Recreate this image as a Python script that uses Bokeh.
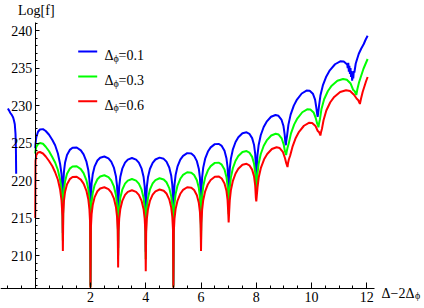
from bokeh.plotting import figure
from bokeh.models import Range1d, FixedTicker, SingleIntervalTicker, Label, BoxAnnotation
from bokeh.embed import file_html
from bokeh.resources import INLINE

# ---------------- data ----------------
x_main = [0, 0.01, 0.04, 0.1, 0.17, 0.28, 0.38, 0.5, 0.62, 0.72, 0.82, 0.9, 0.95, 0.985,
          1, 1.015, 1.04, 1.08, 1.15, 1.25, 1.35, 1.5, 1.65, 1.75, 1.85, 1.92, 1.96, 1.985,
          2, 2.015, 2.04, 2.08, 2.15, 2.25, 2.35, 2.5, 2.65, 2.75, 2.85, 2.92, 2.96, 2.985,
          3, 3.015, 3.04, 3.08, 3.15, 3.25, 3.35, 3.5, 3.65, 3.75, 3.85, 3.92, 3.96, 3.985,
          4, 4.015, 4.04, 4.08, 4.15, 4.25, 4.35, 4.5, 4.65, 4.75, 4.85, 4.92, 4.96, 4.985,
          5, 5.015, 5.04, 5.08, 5.15, 5.25, 5.35, 5.5, 5.65, 5.75, 5.85, 5.92, 5.96, 5.985,
          6, 6.015, 6.04, 6.08, 6.15, 6.25, 6.35, 6.5, 6.65, 6.75, 6.85, 6.92, 6.96, 6.985,
          7, 7.015, 7.04, 7.08, 7.15, 7.25, 7.35, 7.5, 7.65, 7.75, 7.85, 7.92, 7.96, 7.985,
          8]

blue_main = [224.3, 224.9, 225.8, 226.5, 226.8, 226.85, 226.6, 226.1, 225.4, 224.7, 223.6, 222.2, 220.9, 218.8,
             213.0, 219.48, 221.21, 222.40, 223.40, 224.08, 224.37, 224.40, 224.01, 223.48, 222.56, 221.40, 220.11, 218.32,
             206.0, 217.85, 219.60, 220.83, 221.89, 222.66, 223.04, 223.20, 222.95, 222.51, 221.68, 220.57, 219.32, 217.55,
             211.0, 217.50, 219.26, 220.50, 221.58, 222.38, 222.79, 223.00, 222.79, 222.38, 221.58, 220.50, 219.26, 217.50,
             210.5, 217.40, 219.17, 220.42, 221.53, 222.36, 222.80, 223.05, 222.89, 222.51, 221.74, 220.68, 219.45, 217.70,
             206.0, 217.67, 219.45, 220.73, 221.88, 222.78, 223.29, 223.65, 223.59, 223.28, 222.58, 221.57, 220.37, 218.64,
             213.0, 218.62, 220.42, 221.72, 222.91, 223.86, 224.42, 224.85, 224.87, 224.61, 223.96, 222.98, 221.80, 220.08,
             216.5, 219.73, 221.55, 222.88, 224.11, 225.13, 225.76, 226.30, 226.42, 226.23, 225.65, 224.72, 223.57, 221.87,
             219.5]

green_main = [223.6, 224.0, 224.5, 224.85, 225.0, 224.9, 224.5, 223.9, 223.1, 222.4, 221.4, 220.1, 218.8, 216.5,
              212.0, 216.98, 218.71, 219.90, 220.90, 221.58, 221.87, 221.90, 221.51, 220.98, 220.06, 218.90, 217.61, 215.82,
              205.8, 215.35, 217.10, 218.33, 219.39, 220.16, 220.54, 220.70, 220.45, 220.01, 219.18, 218.07, 216.82, 215.05,
              210.0, 214.70, 216.46, 217.70, 218.78, 219.58, 219.99, 220.20, 219.99, 219.58, 218.78, 217.70, 216.46, 214.70,
              209.5, 214.65, 216.42, 217.67, 218.78, 219.61, 220.05, 220.30, 220.14, 219.76, 218.99, 217.93, 216.70, 214.95,
              205.8, 215.12, 216.90, 218.18, 219.33, 220.23, 220.74, 221.10, 221.04, 220.73, 220.03, 219.02, 217.82, 216.09,
              212.0, 216.12, 217.92, 219.22, 220.41, 221.36, 221.92, 222.35, 222.37, 222.11, 221.46, 220.48, 219.30, 217.58,
              215.5, 217.23, 219.05, 220.38, 221.61, 222.63, 223.26, 223.80, 223.92, 223.73, 223.15, 222.22, 221.07, 219.37,
              218.5]

red_main = [215.0, 222.6, 223.4, 223.75, 223.8, 223.6, 223.2, 222.6, 221.9, 221.1, 220.1, 218.8, 217.4, 215.2,
            210.6, 215.58, 217.31, 218.50, 219.50, 220.18, 220.47, 220.50, 220.11, 219.58, 218.66, 217.50, 216.21, 214.42,
            205.7, 213.75, 215.50, 216.73, 217.79, 218.56, 218.94, 219.10, 218.85, 218.41, 217.58, 216.47, 215.22, 213.45,
            208.4, 213.20, 214.96, 216.20, 217.28, 218.08, 218.49, 218.70, 218.49, 218.08, 217.28, 216.20, 214.96, 213.20,
            207.9, 213.15, 214.92, 216.17, 217.28, 218.11, 218.55, 218.80, 218.64, 218.26, 217.49, 216.43, 215.20, 213.45,
            205.7, 213.12, 214.90, 216.18, 217.33, 218.23, 218.74, 219.10, 219.04, 218.73, 218.03, 217.02, 215.82, 214.09,
            210.6, 214.27, 216.07, 217.37, 218.56, 219.51, 220.07, 220.50, 220.52, 220.26, 219.61, 218.63, 217.45, 215.73,
            214.4, 215.53, 217.35, 218.68, 219.91, 220.93, 221.56, 222.10, 222.22, 222.03, 221.45, 220.52, 219.37, 217.67,
            217.2]

blue_tail_x = [8.016, 8.043, 8.086, 8.161, 8.268, 8.375, 8.535, 8.696, 8.803, 8.91, 8.984, 9.027, 9.054,
               9.07,
               9.087, 9.116, 9.162, 9.243, 9.358, 9.473, 9.645, 9.818, 9.933, 10.048, 10.128, 10.174, 10.203,
               10.22,
               10.239, 10.27, 10.321, 10.409, 10.535, 10.661, 10.85, 11.039, 11.165, 11.291,
               11.31, 11.33, 11.35, 11.37, 11.39, 11.41, 11.43, 11.45, 11.47, 11.49, 11.51, 11.53, 11.55,
               11.6, 11.65, 11.71, 11.8, 11.89, 11.96, 12.03]
blue_tail_y = [221.55, 223.38, 224.74, 226.03, 227.13, 227.84, 228.5, 228.74, 228.63, 228.13, 227.26, 226.14, 225.0,
               224.7,
               225.3, 226.02, 227.42, 228.78, 229.98, 230.79, 231.6, 231.99, 231.98, 231.58, 230.78, 229.7, 228.9,
               228.5,
               228.9, 229.92, 231.32, 232.68, 233.88, 234.69, 235.5, 235.89, 235.88, 235.48,
               235.0, 235.7, 234.5, 235.3, 234.2, 235.0, 233.8, 234.6, 233.3, 234.2, 233.6, 234.6, 234.4,
               235.6, 236.2, 236.9, 237.6, 238.2, 238.8, 239.3]

green_tail_x = [8.016, 8.043, 8.086, 8.162, 8.27, 8.378, 8.54, 8.702, 8.81, 8.918, 8.994, 9.037, 9.064,
                9.08,
                9.098, 9.127, 9.174, 9.256, 9.373, 9.49, 9.665, 9.841, 9.958, 10.075, 10.156, 10.203, 10.232,
                10.25,
                10.271, 10.305, 10.36, 10.456, 10.593, 10.73, 10.935, 11.141, 11.278, 11.415, 11.51, 11.565, 11.599,
                11.62,
                11.66, 11.72, 11.8, 11.88, 11.96, 12.03]
green_tail_y = [219.05, 220.88, 222.24, 223.53, 224.63, 225.34, 226.0, 226.24, 226.13, 225.63, 224.76, 223.9, 223.6,
                223.4,
                223.8, 224.3, 224.92, 226.28, 227.48, 228.29, 229.1, 229.49, 229.48, 229.08, 228.28, 227.6, 227.4,
                227.1,
                227.6, 228.18, 229.54, 230.83, 231.93, 232.64, 233.3, 233.54, 233.43, 232.93, 232.06, 231.9, 231.6,
                231.4,
                232.2, 233.1, 234.0, 234.9, 235.6, 236.2]

red_tail_x = [8.017, 8.045, 8.09, 8.17, 8.283, 8.396, 8.565, 8.735, 8.848, 8.961, 9.04, 9.085, 9.113,
              9.13,
              9.148, 9.178, 9.225, 9.309, 9.428, 9.547, 9.725, 9.904, 10.023, 10.142, 10.225, 10.272, 10.302,
              10.32,
              10.341, 10.377, 10.434, 10.535, 10.678, 10.821, 11.035, 11.25, 11.393, 11.536, 11.636, 11.693, 11.729,
              11.75,
              11.79, 11.85, 11.91, 11.97, 12.03]
red_tail_y = [217.9, 219.08, 220.44, 221.73, 222.83, 223.54, 224.2, 224.44, 224.33, 223.83, 222.96, 222.3, 222.0,
              221.8,
              222.3, 222.8, 223.3, 224.48, 225.68, 226.49, 227.3, 227.69, 227.68, 227.28, 226.6, 226.45, 226.2,
              226.0,
              226.4, 226.9, 228.04, 229.33, 230.43, 231.14, 231.8, 232.04, 231.93, 231.43, 230.9, 230.7, 230.4,
              230.2,
              230.9, 231.8, 232.5, 233.2, 233.8]

# blue branch left of the vertical axis
blue_pre_x = [-0.99, -0.95, -0.9, -0.85, -0.8, -0.77, -0.74, -0.714, -0.70, -0.69]
blue_pre_y = [229.6, 229.35, 229.0, 228.75, 228.4, 228.0, 227.5, 226.2, 224.4, 220.9]

series_names = ["0.1", "0.3", "0.6"]
series_colors = ["#0000FF", "#00FF00", "#FF0000"]

x_ticks = [2, 4, 6, 8, 10, 12]
x_minor = [-1, -0.5, 0.5, 1, 1.5, 2.5, 3, 3.5, 4.5, 5, 5.5, 6.5, 7, 7.5, 8.5, 9, 9.5, 10.5, 11, 11.5]

# ---------------- figure ----------------
def xd(px):  # reference pixel -> data x (for annotation / frame placement)
    return (px - 34.74) / 27.63

def yd(px):  # reference pixel -> data y (for annotation / frame placement)
    return 240.0 - (px - 30.0) / 7.5

W, H = 424, 308
X_AXIS_Y = yd(288)
FONT = "Liberation Serif"

p = figure(width=W, height=H, output_backend="svg", toolbar_location=None, title=None,
           x_range=Range1d(xd(0), xd(W)), y_range=Range1d(yd(H), yd(0)),
           min_border_left=0, min_border_right=0, min_border_top=0, min_border_bottom=0)
p.grid.visible = False
p.outline_line_color = None
p.background_fill_color = "white"
p.border_fill_color = "white"

xa = p.xaxis[0]
xa.fixed_location = X_AXIS_Y
xa.bounds = (xd(0), xd(374))
xa.ticker = FixedTicker(ticks=x_ticks, minor_ticks=x_minor)
ya = p.yaxis[0]
ya.fixed_location = 0
ya.bounds = (X_AXIS_Y, yd(22))
ya.ticker = SingleIntervalTicker(interval=5, num_minor_ticks=5)
for ax in (xa, ya):
    ax.axis_line_color = "black"
    ax.axis_line_width = 1
    ax.major_tick_line_color = "black"
    ax.minor_tick_line_color = "black"
    ax.major_label_text_font = FONT
    ax.major_label_text_font_size = "14px"
    ax.major_label_text_color = "black"
    ax.major_tick_out = 0
    ax.minor_tick_out = 0
xa.major_tick_in = 6
xa.minor_tick_in = 3
xa.major_label_standoff = 3
ya.major_tick_in = 4
ya.minor_tick_in = 2
ya.major_label_standoff = 3

# curves
p.line(blue_pre_x, blue_pre_y, line_color=series_colors[0], line_width=2)
p.line(x_main + blue_tail_x, blue_main + blue_tail_y, line_color=series_colors[0], line_width=2)
p.line(x_main + green_tail_x, green_main + green_tail_y, line_color=series_colors[1], line_width=2)
p.line(x_main + red_tail_x, red_main + red_tail_y, line_color=series_colors[2], line_width=2)

# axis labels
p.add_layout(Label(x=xd(35.8), y=yd(2), text="Log[f]", text_align="center", text_baseline="top",
                   text_font=FONT, text_font_size="14px", text_color="black"))
p.add_layout(Label(x=xd(381), y=yd(292.7), text="Δ−2Δ", text_align="left", text_baseline="alphabetic",
                   text_font=FONT, text_font_size="14px", text_color="black"))
p.add_layout(Label(x=xd(414.5), y=yd(295), text="ϕ", text_align="left",
                   text_baseline="alphabetic", text_font=FONT, text_font_size="10px", text_color="black"))

# legend (manual, to allow the subscript)
row_px = [51, 76, 100.7]
for name, col, r in zip(series_names, series_colors, row_px):
    p.add_layout(BoxAnnotation(left=xd(77.7), right=xd(96.7), bottom=yd(r + 1), top=yd(r - 1),
                               fill_color=col, fill_alpha=1, line_color=None))
    p.add_layout(Label(x=xd(104), y=yd(r + 4.3), text="Δ", text_align="left", text_baseline="alphabetic",
                       text_font=FONT, text_font_size="14px", text_color="black"))
    p.add_layout(Label(x=xd(113), y=yd(r + 6.5), text="ϕ", text_align="left", text_baseline="alphabetic",
                       text_font=FONT, text_font_size="10px", text_color="black"))
    p.add_layout(Label(x=xd(118), y=yd(r + 4.3), text="=" + name, text_align="left", text_baseline="alphabetic",
                       text_font=FONT, text_font_size="14px", text_color="black"))

open("out.html", "w").write(file_html(p, INLINE, title=""))
